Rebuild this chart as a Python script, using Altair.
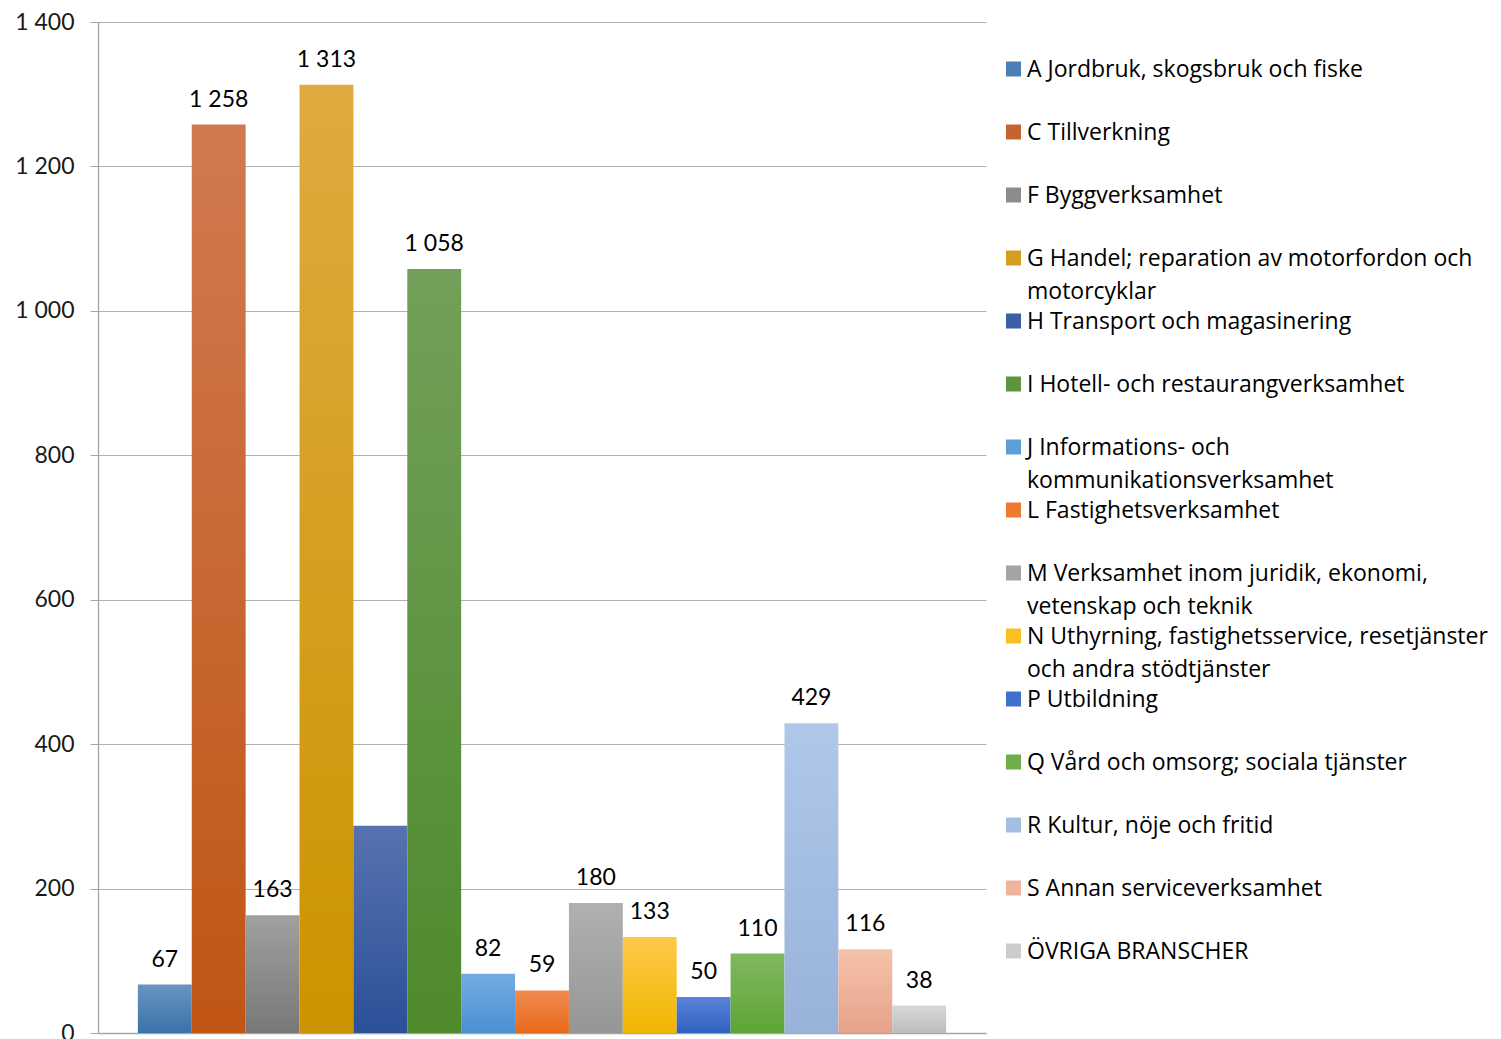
import altair as alt
import pandas as pd

categories = [
    "A Jordbruk, skogsbruk och fiske",
    "C Tillverkning",
    "F Byggverksamhet",
    "G Handel; reparation av motorfordon och motorcyklar",
    "H Transport och magasinering",
    "I Hotell- och restaurangverksamhet",
    "J Informations- och kommunikationsverksamhet",
    "L Fastighetsverksamhet",
    "M Verksamhet inom juridik, ekonomi, vetenskap och teknik",
    "N Uthyrning, fastighetsservice, resetjänster och andra stödtjänster",
    "P Utbildning",
    "Q Vård och omsorg; sociala tjänster",
    "R Kultur, nöje och fritid",
    "S Annan serviceverksamhet",
    "ÖVRIGA BRANSCHER",
]
values = [67, 1258, 163, 1313, 287, 1058, 82, 59, 180, 133, 50, 110, 429, 116, 38]
show_label = [True, True, True, True, False, True, True, True, True, True, True, True, True, True, True]
legend_text = [
    "A Jordbruk, skogsbruk och fiske",
    "C Tillverkning",
    "F Byggverksamhet",
    "G Handel; reparation av motorfordon och\nmotorcyklar",
    "H Transport och magasinering",
    "I Hotell- och restaurangverksamhet",
    "J Informations- och\nkommunikationsverksamhet",
    "L Fastighetsverksamhet",
    "M Verksamhet inom juridik, ekonomi,\nvetenskap och teknik",
    "N Uthyrning, fastighetsservice, resetjänster\noch andra stödtjänster",
    "P Utbildning",
    "Q Vård och omsorg; sociala tjänster",
    "R Kultur, nöje och fritid",
    "S Annan serviceverksamhet",
    "ÖVRIGA BRANSCHER",
]
y_ticks = [0, 200, 400, 600, 800, 1000, 1200, 1400]

# gradient colours (top, bottom) per category
grad_top = ["#6a94c2", "#d07a50", "#a0a0a0", "#e0aa40", "#5872b0", "#72a05a", "#74abe2",
            "#f08a50", "#b0b0b0", "#ffc84a", "#5a84d8", "#80b860", "#afc8ea", "#f6c2aa", "#d8d8d8"]
grad_bot = ["#3a72aa", "#c05515", "#787878", "#cc9400", "#2a5098", "#4e8a2c", "#4a90d2",
            "#e86a1a", "#969696", "#f0b800", "#2f62c0", "#5ea534", "#98b2da", "#e6a28a", "#bdbdbd"]
swatch = ["#4a7fb8", "#c66430", "#8c8c8c", "#d69e20", "#3b5ea4", "#5e9440", "#5d9ed8",
          "#ec7a30", "#a4a4a4", "#f8c020", "#4070cc", "#6eae48", "#a4bde2", "#eeb49c", "#cccccc"]

NUM_FONT = "Lato"
TXT_FONT = "Open Sans"

df = pd.DataFrame({
    "cat": categories,
    "value": values,
    "show": show_label,
    "legend": legend_text,
})

xscale = alt.Scale(domain=categories, paddingInner=0, paddingOuter=0.74)
yscale = alt.Scale(domain=[0, 1400])

base = alt.Chart(df)

bar_layers = []
for i, c in enumerate(categories):
    grad = {
        "gradient": "linear", "x1": 0, "x2": 0, "y1": 0, "y2": 1,
        "stops": [{"offset": 0, "color": grad_top[i]}, {"offset": 1, "color": grad_bot[i]}],
    }
    layer = base.transform_filter(alt.datum.cat == c).mark_bar(color=grad).encode(
        x=alt.X("cat:N", scale=xscale,
                axis=alt.Axis(labels=False, ticks=False, title=None, domainColor="#a6a6a6",
                              domainWidth=1.3)),
        y=alt.Y("value:Q", scale=yscale,
                axis=alt.Axis(values=y_ticks, title=None, grid=True, gridColor="#b0b0b0",
                              gridWidth=1, domainColor="#a6a6a6", domainWidth=1.3,
                              tickColor="#a6a6a6", tickSize=8, labelPadding=16,
                              labelFontSize=23, labelFont=NUM_FONT, labelColor="#1a1a1a",
                              labelExpr="replace(format(datum.value, ','), ',', ' ')")),
    )
    bar_layers.append(layer)

labels = base.transform_filter(alt.datum.show).transform_calculate(
    lbl="replace(format(datum.value, ','), ',', ' ')"
).mark_text(font=NUM_FONT, fontSize=23, color="#000000", baseline="alphabetic", dy=-18).encode(
    x=alt.X("cat:N", scale=xscale),
    y=alt.Y("value:Q", scale=yscale),
    text="lbl:N",
)

main = alt.layer(*bar_layers, labels).properties(width=888, height=1011)

lscale = alt.Scale(type="point", domain=categories, range=[47, 929], padding=0)
leg_sq = base.mark_square(size=225, opacity=1).encode(
    x=alt.value(7.5),
    y=alt.Y("cat:N", scale=lscale, axis=None),
    color=alt.Color("cat:N", scale=alt.Scale(domain=categories, range=swatch), legend=None),
)
leg_tx = base.mark_text(font=TXT_FONT, fontSize=23, color="#000000", align="left",
                        baseline="alphabetic", dy=8, lineBreak="\n", lineHeight=33).encode(
    x=alt.value(21),
    y=alt.Y("cat:N", scale=lscale, axis=None),
    text="legend:N",
)
legend = alt.layer(leg_sq, leg_tx).properties(width=470, height=1011)

chart = alt.hconcat(main, legend, spacing=20).properties(
    padding={"left": 6, "top": 3, "right": 0, "bottom": 0}
).configure_view(stroke=None).resolve_scale(color="independent", y="independent", x="independent")

chart.save("out.html", embed_options={"renderer": "svg", "actions": False})
